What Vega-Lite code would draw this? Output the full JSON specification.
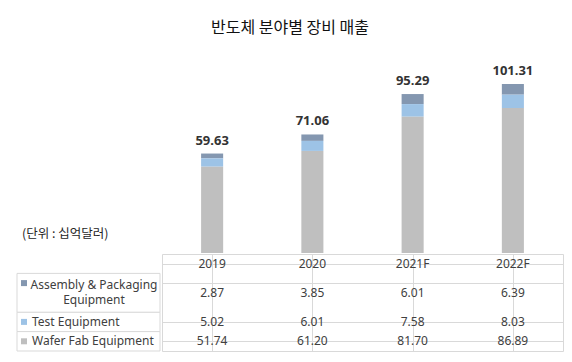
{
  "$schema": "https://vega.github.io/schema/vega-lite/v6.json",
  "padding": {"left": 16, "top": 20, "right": 5, "bottom": 5},
  "title": {"text": "반도체 분야별 장비 매출", "anchor": "middle", "fontSize": 16, "fontWeight": "normal", "font": "Noto Sans CJK KR", "color": "#111111", "offset": 14},
  "data": {"values": [
    {"year": "2019", "series": "Assembly & Packaging Equipment", "value": 2.87},
    {"year": "2019", "series": "Test Equipment", "value": 5.02},
    {"year": "2019", "series": "Wafer Fab Equipment", "value": 51.74},
    {"year": "2020", "series": "Assembly & Packaging Equipment", "value": 3.85},
    {"year": "2020", "series": "Test Equipment", "value": 6.01},
    {"year": "2020", "series": "Wafer Fab Equipment", "value": 61.20},
    {"year": "2021F", "series": "Assembly & Packaging Equipment", "value": 6.01},
    {"year": "2021F", "series": "Test Equipment", "value": 7.58},
    {"year": "2021F", "series": "Wafer Fab Equipment", "value": 81.70},
    {"year": "2022F", "series": "Assembly & Packaging Equipment", "value": 6.39},
    {"year": "2022F", "series": "Test Equipment", "value": 8.03},
    {"year": "2022F", "series": "Wafer Fab Equipment", "value": 86.89}
  ]},
  "columns": 2,
  "spacing": 0,
  "concat": [
    {
      "width": 143,
      "height": 170,
      "title": {"text": "(단위 : 십억달러)", "orient": "bottom", "anchor": "start", "fontSize": 12.5, "fontWeight": "normal", "font": "Noto Sans CJK KR", "color": "#262626", "offset": 8, "dx": 5},
      "transform": [{"filter": "datum.year === '2019' && datum.series === 'Test Equipment'"}],
      "mark": {"type": "text"},
      "encoding": {"text": {"value": ""}}
    },
    {
      "width": 401,
      "height": 203,
      "layer": [
        {
          "mark": {"type": "bar"},
          "encoding": {
            "x": {"field": "year", "type": "nominal", "scale": {"domain": ["2019", "2020", "2021F", "2022F"], "paddingInner": 0.78, "paddingOuter": 0.39}, "axis": null},
            "y": {"field": "value", "type": "quantitative", "stack": "zero", "scale": {"domain": [0, 121.7], "nice": false}, "axis": null},
            "color": {"field": "series", "type": "nominal", "scale": {"domain": ["Assembly & Packaging Equipment", "Test Equipment", "Wafer Fab Equipment"], "range": ["#8497B0", "#9DC3E6", "#BFBFBF"]}, "legend": null},
            "order": {"field": "series", "sort": "descending"}
          }
        },
        {
          "transform": [{"aggregate": [{"op": "sum", "field": "value", "as": "total"}], "groupby": ["year"]}],
          "mark": {"type": "text", "fontSize": 13, "fontWeight": "bold", "baseline": "alphabetic", "dy": -9, "color": "#333333", "font": "Noto Sans"},
          "encoding": {
            "x": {"field": "year", "type": "nominal", "scale": {"domain": ["2019", "2020", "2021F", "2022F"], "paddingInner": 0.78, "paddingOuter": 0.39}, "axis": null},
            "y": {"field": "total", "type": "quantitative", "scale": {"domain": [0, 121.7], "nice": false}, "axis": null},
            "text": {"field": "total", "type": "quantitative", "format": ".2f"}
          }
        }
      ]
    },
    {
      "width": 143,
      "height": 97,
      "transform": [{"filter": "datum.year === '2019'"}],
      "layer": [
        {
          "transform": [{"filter": "datum.series !== 'Assembly & Packaging Equipment'"}],
          "mark": {"type": "rect", "fill": "white", "stroke": "#d9d9d9", "strokeWidth": 1},
          "encoding": {
            "y": {"field": "series", "type": "nominal", "scale": {"domain": ["연도", "Assembly & Packaging Equipment", "Assembly & Packaging Equipment (2)", "Test Equipment", "Wafer Fab Equipment"], "paddingInner": 0, "paddingOuter": 0}, "axis": null}
          }
        },
        {
          "transform": [{"filter": "datum.series === 'Assembly & Packaging Equipment'"}],
          "mark": {"type": "rect", "fill": "white", "stroke": "#d9d9d9", "strokeWidth": 1},
          "encoding": {
            "y": {"field": "series", "type": "nominal", "bandPosition": 0, "scale": {"domain": ["연도", "Assembly & Packaging Equipment", "Assembly & Packaging Equipment (2)", "Test Equipment", "Wafer Fab Equipment"], "paddingInner": 0, "paddingOuter": 0}, "axis": null},
            "y2": {"field": "series", "bandPosition": 2}
          }
        },
        {
          "mark": {"type": "square", "size": 36, "opacity": 1, "filled": true, "xOffset": -64.5},
          "encoding": {
            "y": {"field": "series", "type": "nominal", "scale": {"domain": ["연도", "Assembly & Packaging Equipment", "Assembly & Packaging Equipment (2)", "Test Equipment", "Wafer Fab Equipment"], "paddingInner": 0, "paddingOuter": 0}, "axis": null},
            "color": {"field": "series", "type": "nominal", "scale": {"domain": ["Assembly & Packaging Equipment", "Test Equipment", "Wafer Fab Equipment"], "range": ["#8497B0", "#9DC3E6", "#BFBFBF"]}, "legend": null}
          }
        },
        {
          "transform": [{"filter": "datum.series !== 'Assembly & Packaging Equipment'"}],
          "mark": {"type": "text", "align": "left", "dx": -56.5, "fontSize": 12, "color": "#404040", "font": "Noto Sans"},
          "encoding": {
            "y": {"field": "series", "type": "nominal", "scale": {"domain": ["연도", "Assembly & Packaging Equipment", "Assembly & Packaging Equipment (2)", "Test Equipment", "Wafer Fab Equipment"], "paddingInner": 0, "paddingOuter": 0}, "axis": null},
            "text": {"field": "series"}
          }
        },
        {
          "transform": [{"filter": "datum.series === 'Assembly & Packaging Equipment'"}],
          "mark": {"type": "text", "align": "center", "dx": 5.5, "dy": 1.5, "fontSize": 12, "color": "#404040", "font": "Noto Sans"},
          "encoding": {
            "y": {"field": "series", "type": "nominal", "scale": {"domain": ["연도", "Assembly & Packaging Equipment", "Assembly & Packaging Equipment (2)", "Test Equipment", "Wafer Fab Equipment"], "paddingInner": 0, "paddingOuter": 0}, "axis": null},
            "text": {"value": "Assembly & Packaging"}
          }
        },
        {
          "transform": [{"filter": "datum.series === 'Assembly & Packaging Equipment'"}],
          "mark": {"type": "text", "align": "center", "dx": 5.5, "dy": -2.5, "fontSize": 12, "color": "#404040", "font": "Noto Sans"},
          "encoding": {
            "y": {"datum": "Assembly & Packaging Equipment (2)", "type": "nominal", "scale": {"domain": ["연도", "Assembly & Packaging Equipment", "Assembly & Packaging Equipment (2)", "Test Equipment", "Wafer Fab Equipment"], "paddingInner": 0, "paddingOuter": 0}, "axis": null},
            "text": {"value": "Equipment"}
          }
        }
      ]
    },
    {
      "width": 401,
      "height": 97,
      "view": {"stroke": "#d9d9d9", "strokeWidth": 1},
      "layer": [
        {
          "transform": [{"filter": "datum.series === 'Wafer Fab Equipment'"}],
          "mark": {"type": "text", "fontSize": 12, "color": "#404040", "font": "Noto Sans"},
          "encoding": {
            "x": {"field": "year", "type": "nominal", "scale": {"domain": ["2019", "2020", "2021F", "2022F"], "paddingInner": 0, "paddingOuter": 0}, "axis": {"grid": true, "gridColor": "#d9d9d9", "bandPosition": 0, "labels": false, "ticks": false, "domain": false, "title": null}},
            "y": {"datum": "연도", "type": "nominal", "scale": {"domain": ["연도", "Assembly & Packaging Equipment", "Assembly & Packaging Equipment (2)", "Test Equipment", "Wafer Fab Equipment"], "paddingInner": 0, "paddingOuter": 0}, "axis": {"grid": true, "gridColor": "#d9d9d9", "bandPosition": 0, "values": ["연도", "Assembly & Packaging Equipment", "Test Equipment", "Wafer Fab Equipment"], "labels": false, "ticks": false, "domain": false, "title": null}},
            "text": {"field": "year"}
          }
        },
        {
          "transform": [{"filter": "datum.series !== 'Assembly & Packaging Equipment'"}],
          "mark": {"type": "text", "fontSize": 12, "color": "#404040", "font": "Noto Sans"},
          "encoding": {
            "x": {"field": "year", "type": "nominal", "scale": {"domain": ["2019", "2020", "2021F", "2022F"], "paddingInner": 0, "paddingOuter": 0}},
            "y": {"field": "series", "type": "nominal", "scale": {"domain": ["연도", "Assembly & Packaging Equipment", "Assembly & Packaging Equipment (2)", "Test Equipment", "Wafer Fab Equipment"], "paddingInner": 0, "paddingOuter": 0}},
            "text": {"field": "value", "type": "quantitative", "format": ".2f"}
          }
        },
        {
          "transform": [{"filter": "datum.series === 'Assembly & Packaging Equipment'"}],
          "mark": {"type": "text", "fontSize": 12, "color": "#404040", "font": "Noto Sans", "dy": 9.7},
          "encoding": {
            "x": {"field": "year", "type": "nominal", "scale": {"domain": ["2019", "2020", "2021F", "2022F"], "paddingInner": 0, "paddingOuter": 0}},
            "y": {"field": "series", "type": "nominal", "scale": {"domain": ["연도", "Assembly & Packaging Equipment", "Assembly & Packaging Equipment (2)", "Test Equipment", "Wafer Fab Equipment"], "paddingInner": 0, "paddingOuter": 0}},
            "text": {"field": "value", "type": "quantitative", "format": ".2f"}
          }
        }
      ]
    }
  ],
  "config": {"view": {"stroke": null}, "font": "Noto Sans", "background": "white"}
}
